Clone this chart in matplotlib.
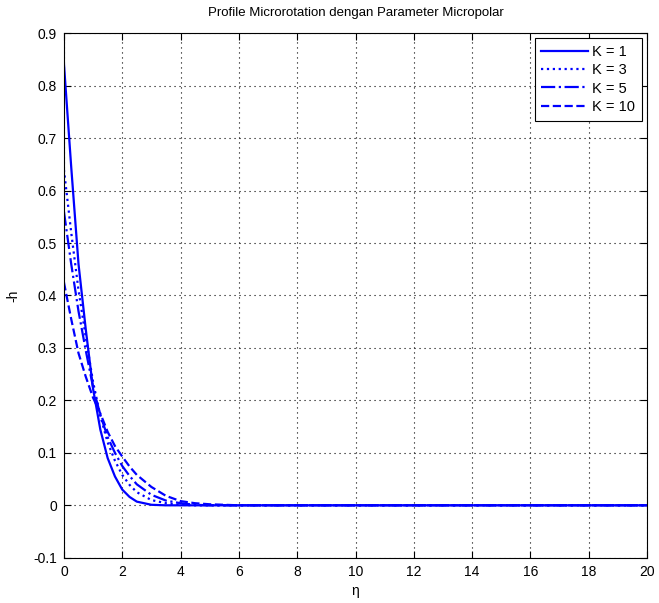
import numpy as np
import matplotlib
matplotlib.use('Agg')
import matplotlib.pyplot as plt

# eta sample points and -h values
eta = [0, 0.25, 0.5, 0.75, 1.0, 1.25, 1.5, 1.75, 2.0, 2.25, 2.5, 3.0, 3.5, 4.0, 4.5, 5.0, 6.0, 8.0, 20.0]
k1 = [0.842, 0.645, 0.46, 0.335, 0.222, 0.144, 0.09, 0.055, 0.03, 0.016, 0.007, 0.001, 0.0, 0.0, 0.0, 0.0, 0.0, 0.0, 0.0]
k3 = [0.64, 0.52, 0.41, 0.32, 0.235, 0.17, 0.12, 0.085, 0.058, 0.039, 0.025, 0.01, 0.004, 0.001, 0.0, 0.0, 0.0, 0.0, 0.0]
k5 = [0.56, 0.46, 0.37, 0.295, 0.225, 0.172, 0.13, 0.1, 0.075, 0.056, 0.04, 0.02, 0.009, 0.004, 0.001, 0.0, 0.0, 0.0, 0.0]
k10 = [0.425, 0.355, 0.29, 0.245, 0.205, 0.175, 0.14, 0.113, 0.093, 0.074, 0.058, 0.035, 0.018, 0.008, 0.004, 0.002, 0.0, 0.0, 0.0]
labels = ['K = 1', 'K = 3', 'K = 5', 'K = 10']
styles = ['-', ':', '-.', '--']

plt.rcParams['font.family'] = ['Liberation Sans', 'DejaVu Sans']

fig = plt.figure(figsize=(6.59, 6.03), dpi=100)
ax = fig.add_axes([0.097, 0.075, 0.885, 0.870])

for y, ls, lab in zip([k1, k3, k5, k10], styles, labels):
    ax.plot(eta, y, color='#0000FF', linestyle=ls, linewidth=1.6, label=lab)

ax.set_xlim(0, 20)
ax.set_ylim(-0.1, 0.9)
ax.set_xticks(np.arange(0, 21, 2))
ax.set_yticks(np.round(np.arange(-0.1, 0.91, 0.1), 1))
ax.set_yticklabels(['-0.1', '0', '0.1', '0.2', '0.3', '0.4', '0.5', '0.6', '0.7', '0.8', '0.9'])
ax.grid(True, color='black', linestyle=(0, (1, 3.5)), linewidth=0.8)
ax.tick_params(direction='in', top=True, right=True, labelsize=10, length=5, pad=5)
for s in ax.spines.values():
    s.set_linewidth(0.8)

ax.set_title('Profile Microrotation dengan Parameter Micropolar', fontsize=9.5, pad=12)
ax.set_xlabel('\u03b7', fontsize=10, labelpad=4)
ax.set_ylabel('-h', fontsize=10, labelpad=9)

leg = ax.legend(loc='upper right', fontsize=10.5, fancybox=False, framealpha=1,
                edgecolor='black', handlelength=3.2, borderaxespad=0.35,
                labelspacing=0.3, handletextpad=0.3, borderpad=0.45)
leg.get_frame().set_linewidth(0.8)

fig.savefig('out.png', dpi=100, facecolor='white')
